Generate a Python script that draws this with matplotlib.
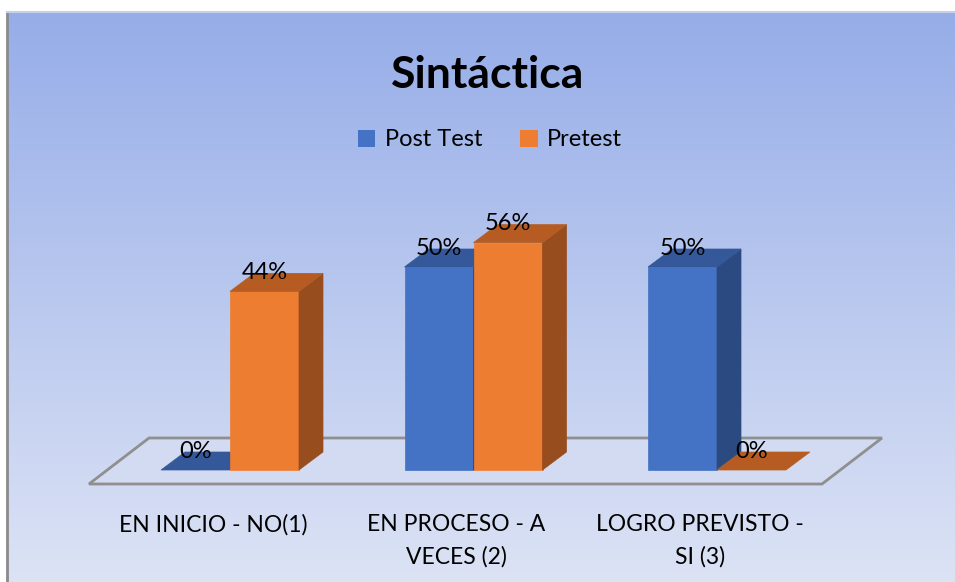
import matplotlib
matplotlib.use("Agg")
import matplotlib.pyplot as plt
import numpy as np
from matplotlib.patches import Polygon, Patch
from matplotlib.lines import Line2D

categories = ["EN INICIO - NO(1)", "EN PROCESO - A\nVECES (2)", "LOGRO PREVISTO -\nSI (3)"]
series_names = ["Post Test", "Pretest"]
post_test = [0, 50, 50]
pretest = [44, 56, 0]
title = "Sintáctica"

plt.rcParams['font.family'] = ['Lato', 'DejaVu Sans']

W, H = 955, 582
fig = plt.figure(figsize=(W / 100, H / 100), dpi=100)
fig.patch.set_facecolor("white")

# background gradient panel
bg = fig.add_axes([7 / W, 0, 1 - 7 / W, (H - 12) / H])
grad = np.linspace(0, 1, 256).reshape(-1, 1)
top = np.array([0x96, 0xad, 0xe8]) / 255
bot = np.array([0xdc, 0xe3, 0xf5]) / 255
img = top[None, None, :] * (1 - grad[..., None]) + bot[None, None, :] * grad[..., None]
bg.imshow(img, aspect="auto", extent=[0, 1, 0, 1], origin="upper")
bg.set_xlim(0, 1)
bg.set_ylim(0, 1)
bg.axis("off")
bg.add_line(Line2D([0, 0], [0, 1], color="#8a8a8a", lw=2, transform=bg.transAxes, clip_on=False))
bg.add_line(Line2D([0, 1], [1, 1], color="#c8d0e8", lw=1.5, transform=bg.transAxes, clip_on=False))

# main axes covering whole figure, mapped so that 1 category = 243.5 px, 1% = 4.06 px
ax = fig.add_axes([0, 0, 1, 1])
ax.patch.set_alpha(0)
px_x = 243.5
px_y = 4.06
x0_px, y0_px = 230, 470
ax.set_xlim((0 - x0_px) / px_x, (W - x0_px) / px_x)
ax.set_ylim((y0_px - H) / px_y, y0_px / px_y)
ax.axis("off")

dx = 24 / px_x
dy = 18 / px_y
bw = 69 / px_x

# floor
fl_front = (y0_px - 484) / px_y
fl_back = (y0_px - 438) / px_y
fxl, fxr = (89 - x0_px) / px_x, (822 - x0_px) / px_x
fdx = 60 / px_x
ax.add_patch(Polygon([(fxl, fl_front), (fxr, fl_front), (fxr + fdx, fl_back), (fxl + fdx, fl_back)],
                     closed=True, facecolor="#d3dbf2", edgecolor="#8f8f8f", lw=2, zorder=1))

colors = {
    "Post Test": ("#4472c4", "#34589a", "#2b4a82"),
    "Pretest": ("#ed7d31", "#b65c22", "#984d1e"),
}

def bar3d(x, h, cols, z):
    front, topc, side = cols
    if h > 0:
        ax.add_patch(Polygon([(x, 0), (x + bw, 0), (x + bw, h), (x, h)], closed=True,
                             facecolor=front, edgecolor=front, lw=0.5, zorder=z))
        ax.add_patch(Polygon([(x + bw, 0), (x + bw + dx, dy), (x + bw + dx, h + dy), (x + bw, h)],
                             closed=True, facecolor=side, edgecolor=side, lw=0.5, zorder=z))
    ax.add_patch(Polygon([(x, h), (x + bw, h), (x + bw + dx, h + dy), (x + dx, h + dy)], closed=True,
                         facecolor=topc, edgecolor=topc, lw=0.5, zorder=z))

for i, cat in enumerate(categories):
    for j, (name, vals) in enumerate([("Post Test", post_test), ("Pretest", pretest)]):
        x = i - bw + j * bw
        v = vals[i]
        bar3d(x, v, colors[name], 2 + j)
        ax.text(x + bw / 2, v + 19 / px_y, f"{v}%", ha="center", va="center",
                fontsize=17, color="black", zorder=10)
    ax.text(i - 17 / px_x, (y0_px - 514) / px_y, cat, ha="center", va="top",
            fontsize=16.5, color="black", linespacing=1.62, zorder=10)

fig.text(488 / W, 1 - 75 / H, title, ha="center", va="center", fontsize=32,
         fontweight="bold", color="black")

handles = [Patch(facecolor=colors[n][0], edgecolor="none") for n in series_names]
fig.legend(handles, series_names, loc="center", bbox_to_anchor=(490 / W, 1 - 140 / H),
           ncol=2, frameon=False, fontsize=17, handlelength=0.75, handleheight=0.75,
           handletextpad=0.4, columnspacing=1.6)

fig.savefig("out.png", dpi=100)
